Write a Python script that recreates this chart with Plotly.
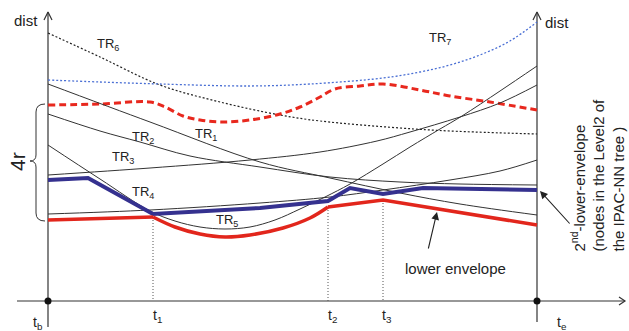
import plotly.graph_objects as go

# ---- diagram data (pixel-space coordinates of the schematic) ----
TR1_X = [48, 150, 260, 330, 400, 460, 537]
TR1_Y = [84, 122, 162, 178, 193, 204, 215]

TR2_X = [48, 100, 140, 190, 260, 330, 400, 460, 537]
TR2_Y = [114, 131, 142, 156, 167, 177, 182, 184, 185]

TR3_X = [48, 150, 250, 320, 377, 410, 460, 500, 537]
TR3_Y = [175, 168, 160, 152, 141, 132, 117, 103, 85]

TR4_X = [48, 100, 150, 175, 200, 225, 250, 275, 300, 325, 350, 383, 410, 440, 462, 500, 537]
TR4_Y = [145, 179, 211, 221, 227, 229, 227, 220, 209, 197, 184, 164, 147, 129, 116, 91, 66]

TR5_X = [48, 150, 260, 330, 383, 450, 500, 537]
TR5_Y = [214, 210, 203, 197, 190, 180, 171, 160]

TR6_X = [48, 100, 160, 220, 280, 320, 400, 450, 537]
TR6_Y = [33, 57, 85, 102, 115, 121, 128, 131, 134]

TR7_X = [48, 100, 160, 250, 310, 383, 420, 450, 480, 510, 537]
TR7_Y = [80, 82, 84, 86, 84, 78, 72, 65, 55, 41, 22]

NODE_X = [48, 100, 150, 165, 183, 200, 222, 250, 280, 300, 320, 335, 360, 383, 420, 450, 490, 537]
NODE_Y = [105, 104, 102, 107, 116, 120, 122, 120, 114, 107, 97, 89, 86, 84, 90, 96, 102, 110]

ENV2_X = [48, 88, 153, 260, 328, 350, 383, 423, 537]
ENV2_Y = [180, 178, 214, 208, 201, 188, 194, 188, 190]

ENV_L_X = [48, 153]
ENV_L_Y = [220, 217]
ENV_M_X = [153, 175, 200, 225, 250, 283, 310, 328]
ENV_M_Y = [217, 227, 234, 237, 235, 228, 218, 207]
ENV_R_X = [328, 383, 537]
ENV_R_Y = [207, 200, 225]

T_X = [153, 328, 383]
T_TOP = [217, 207, 200]
T_LABELS = ["t<sub>1</sub>", "t<sub>2</sub>", "t<sub>3</sub>"]
TB_X, TE_X = 48, 537
BASE_Y = 301

TR_LABELS = ["TR<sub>1</sub>", "TR<sub>2</sub>", "TR<sub>3</sub>", "TR<sub>4</sub>",
             "TR<sub>5</sub>", "TR<sub>6</sub>", "TR<sub>7</sub>"]
TR_LABEL_X = [206, 143, 123, 143, 227, 108, 440]
TR_LABEL_Y = [134, 137, 157, 192, 220, 44, 38]

FONT = "Liberation Sans, Arial, sans-serif"
INK = "#333333"
TXT = "#222222"

fig = go.Figure()

def line(x, y, color, width, dash="solid", shape="linear", smoothing=1.0):
    fig.add_trace(go.Scatter(
        x=x, y=y, mode="lines", hoverinfo="skip",
        line=dict(color=color, width=width, dash=dash, shape=shape,
                  smoothing=smoothing if shape == "spline" else None)))

# axes
line([17, 625], [BASE_Y, BASE_Y], INK, 1.2)
line([TB_X, TB_X], [327, 12], INK, 1.2)
line([TE_X, TE_X], [322, 12], INK, 1.2)
line([44, 48, 52], [20, 12, 20], INK, 1.2)
line([533, 537, 541], [20, 12, 20], INK, 1.2)
line([619, 625, 619], [297, 301, 305], INK, 1.2)

# vertical dotted time markers
for tx, ty in zip(T_X, T_TOP):
    line([tx, tx], [ty, BASE_Y], "#555555", 1, dash="1px,2px")

# dotted / dashed curves
line(TR6_X, TR6_Y, "#222222", 1.2, dash="2px,2px", shape="spline")
line(TR7_X, TR7_Y, "#4a6fd4", 1.3, dash="2px,2px", shape="spline")
line(NODE_X, NODE_Y, "#e8281e", 3, dash="7px,4px", shape="spline")

# thin trajectories
line(TR1_X, TR1_Y, INK, 1, shape="spline")
line(TR2_X, TR2_Y, INK, 1, shape="spline")
line(TR3_X, TR3_Y, INK, 1, shape="spline")
line(TR4_X, TR4_Y, INK, 1, shape="spline")
line(TR5_X, TR5_Y, INK, 1, shape="spline")

# envelopes
line(ENV2_X, ENV2_Y, "#35318f", 4)
line(ENV_L_X, ENV_L_Y, "#e2261c", 3.5)
line(ENV_M_X, ENV_M_Y, "#e2261c", 3.5, shape="spline")
line(ENV_R_X, ENV_R_Y, "#e2261c", 3.5)

# endpoints
fig.add_trace(go.Scatter(x=[TB_X, TE_X], y=[BASE_Y, BASE_Y], mode="markers",
                         hoverinfo="skip", marker=dict(color="#111111", size=7)))

ann = []
def text(x, y, s, size=13, angle=0, **kw):
    ann.append(dict(x=x, y=y, text=s, showarrow=False, textangle=angle,
                    font=dict(family=FONT, size=size, color=TXT), **kw))

for s, x, y in zip(TR_LABELS, TR_LABEL_X, TR_LABEL_Y):
    text(x, y, s, 13)
for s, x in zip(T_LABELS, [157, 332, 387]):
    text(x, 316, s, 14)
text(38, 323, "t<sub>b</sub>", 14)
text(562, 323, "t<sub>e</sub>", 14)
text(26, 20, "dist", 15)
text(557, 22, "dist", 15)
text(455, 268, "lower envelope", 15)
text(17, 162, "4r", 21, angle=-90)
text(597, 254, "2<sup>nd</sup>-lower-envelope<br>(nodes in the Level2 of<br>the IPAC-NN tree )",
     15, angle=-90, align="left", yanchor="bottom")

# arrows
ann.append(dict(x=437, y=212, ax=428, ay=250, axref="x", ayref="y", xref="x", yref="y",
                text="", showarrow=True, arrowhead=2, arrowsize=1.4, arrowwidth=1.1,
                arrowcolor="#222222"))
ann.append(dict(x=540, y=191, ax=571, ay=225, axref="x", ayref="y", xref="x", yref="y",
                text="", showarrow=True, arrowhead=2, arrowsize=1.4, arrowwidth=1.1,
                arrowcolor="#222222"))

# brace for 4r
shapes = [dict(type="path", xref="x", yref="y",
               path="M 45,104 Q 36,104 36,112 L 36,155 Q 36,161 30,161 Q 36,161 36,167 L 36,213 Q 36,221 45,221",
               line=dict(color=INK, width=1))]

fig.update_layout(
    width=629, height=331, margin=dict(l=0, r=0, t=0, b=0),
    paper_bgcolor="white", plot_bgcolor="white", showlegend=False,
    xaxis=dict(range=[0, 629], visible=False, fixedrange=True),
    yaxis=dict(range=[331, 0], visible=False, fixedrange=True),
    annotations=ann, shapes=shapes,
)

fig.write_html("out.html")
